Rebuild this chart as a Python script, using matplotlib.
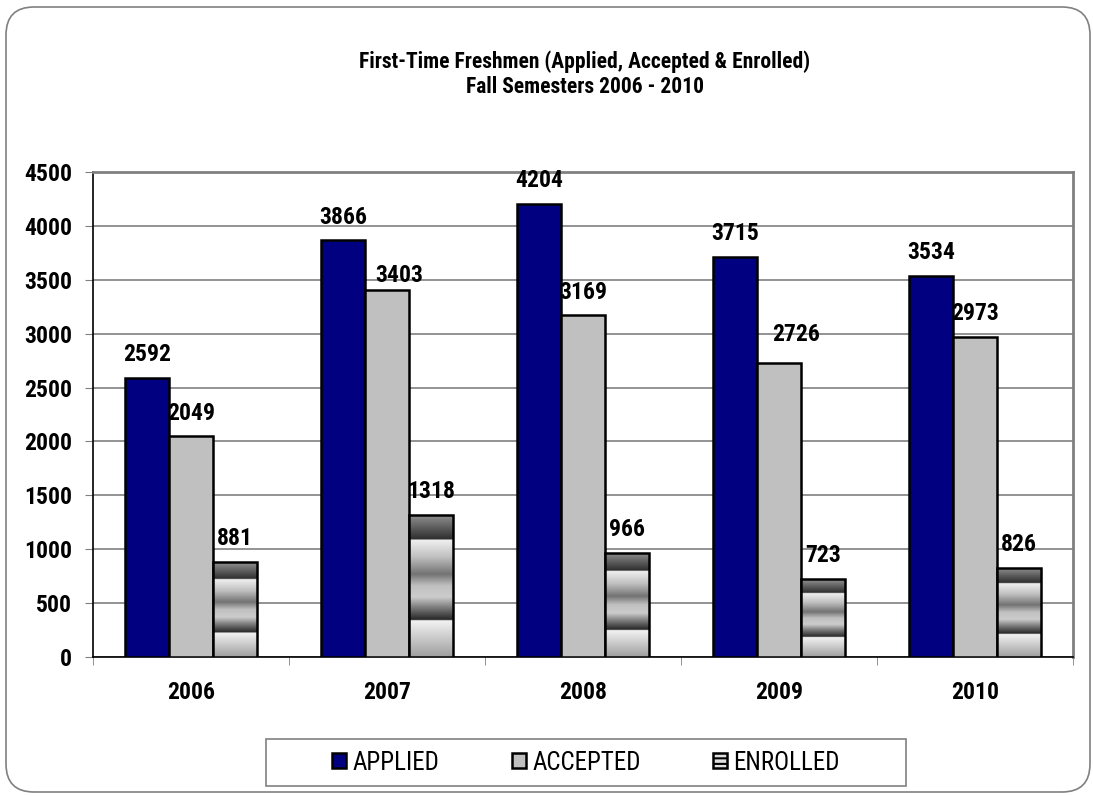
import numpy as np
import matplotlib.pyplot as plt
from matplotlib.patches import FancyBboxPatch, Rectangle
from matplotlib import font_manager

years = ['2006', '2007', '2008', '2009', '2010']
applied = [2592, 3866, 4204, 3715, 3534]
accepted = [2049, 3403, 3169, 2726, 2973]
enrolled = [881, 1318, 966, 723, 826]

names = {f.name for f in font_manager.fontManager.ttflist}
FAM = [f for f in ['Liberation Sans Narrow', 'Roboto Condensed', 'Liberation Sans', 'DejaVu Sans'] if f in names]
plt.rcParams['font.family'] = FAM
plt.rcParams['hatch.color'] = '#505050'
plt.rcParams['hatch.linewidth'] = 1.5

fig = plt.figure(figsize=(10.93, 7.96), dpi=100)
ax = fig.add_axes([0.0851, 0.1746, 0.8966, 0.6093])

# outer rounded frame
frame = FancyBboxPatch((0.06, 0.04), 10.84, 7.85,
                       boxstyle='round,pad=0,rounding_size=0.28',
                       transform=fig.dpi_scale_trans, facecolor='none',
                       edgecolor='#808080', linewidth=1.2, zorder=0)
fig.patches.append(frame)

x = np.arange(len(years))
w = 0.225
b1 = ax.bar(x - w, applied, w, color='#000080', edgecolor='black', linewidth=1.8, zorder=3)
b2 = ax.bar(x, accepted, w, color='#c0c0c0', edgecolor='black', linewidth=1.8, zorder=3)
b3 = ax.bar(x + w, enrolled, w, color='none', edgecolor='black', linewidth=1.8, zorder=4)

# banded gradient fill for the enrolled bars
fk = [0, 0.255, 0.26, 0.35, 0.42, 0.5, 0.58, 0.7, 0.82, 0.825, 0.9, 1.0]
gv = [0.62, 0.95, 0.15, 0.5, 0.8, 0.75, 0.45, 0.75, 0.94, 0.18, 0.35, 0.58]
ff = np.linspace(0, 1, 400)
prof = np.interp(ff, fk, gv)[::-1].reshape(-1, 1)
for rect in b3:
    x0, h, wd = rect.get_x(), rect.get_height(), rect.get_width()
    im = ax.imshow(prof, cmap='gray', vmin=0, vmax=1, aspect='auto',
                   extent=(x0, x0 + wd, 0, h), zorder=3, interpolation='bilinear')
    clip = Rectangle((x0, 0), wd, h, transform=ax.transData)
    im.set_clip_path(clip)

# a couple of labels sit slightly off-centre in the original
nudge = {(1, 1): (9, 6), (1, 3): (12, 16)}
for si, bars in enumerate((b1, b2, b3)):
    for ci, r in enumerate(bars):
        dx, dy = nudge.get((si, ci), (0, 12))
        ax.annotate(f'{int(r.get_height())}', (r.get_x() + r.get_width() / 2, r.get_height()),
                    xytext=(dx, dy), textcoords='offset points', ha='center', va='baseline',
                    fontsize=17, fontweight='bold')

ax.set_xlim(-0.5, 4.5)
ax.set_ylim(0, 4500)
ax.set_yticks(np.arange(0, 4501, 500))
ax.set_xticks(x)
ax.set_xticklabels(years)
ax.set_xticks(np.arange(-0.5, 4.6, 1), minor=True)
ax.tick_params(axis='x', which='major', length=0, pad=17, labelsize=17)
ax.tick_params(axis='x', which='minor', length=6, direction='out', color='#808080')
ax.tick_params(axis='y', length=6, direction='out', color='#808080', pad=9, labelsize=17)
for lab in ax.get_xticklabels() + ax.get_yticklabels():
    lab.set_fontweight('bold')
ax.yaxis.grid(True, color='#808080', linewidth=1.2, zorder=0)
ax.set_axisbelow(True)
ax.spines['left'].set_color('black')
ax.spines['bottom'].set_color('black')
ax.spines['left'].set_linewidth(1.2)
ax.spines['bottom'].set_linewidth(1.2)
for s in ('top', 'right'):
    ax.spines[s].set_color('#808080')
    ax.spines[s].set_linewidth(2)

fig.text(0.535, 0.907, 'First-Time Freshmen (Applied, Accepted & Enrolled)\nFall Semesters 2006 - 2010',
         ha='center', va='center', fontsize=15.5, fontweight='bold', linespacing=1.2)

# legend with a wide frame drawn separately
fig.patches.append(Rectangle((266 / 1093, 1 - 786 / 796), 640 / 1093, 47 / 796,
                             transform=fig.transFigure, facecolor='white',
                             edgecolor='#808080', linewidth=1.2, zorder=1))
h1 = Rectangle((0, 0), 1, 1, facecolor='#000080', edgecolor='black', linewidth=1.8)
h2 = Rectangle((0, 0), 1, 1, facecolor='#c0c0c0', edgecolor='black', linewidth=1.8)
h3 = Rectangle((0, 0), 1, 1, facecolor='#e0e0e0', edgecolor='black', linewidth=1.8, hatch='---')
leg = fig.legend([h1, h2, h3], ['APPLIED', 'ACCEPTED', 'ENROLLED'], loc='center',
                 bbox_to_anchor=(586 / 1093, 1 - 762.5 / 796), ncol=3, fontsize=18, frameon=False,
                 handlelength=0.56, handleheight=0.56, handletextpad=0.25, columnspacing=2.9,
                 borderpad=0.2)

fig.savefig('out.png', dpi=100)
